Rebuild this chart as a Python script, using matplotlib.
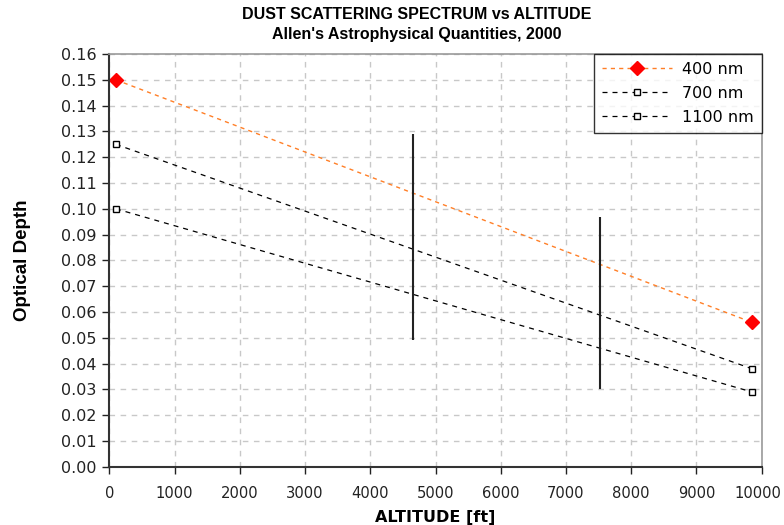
import matplotlib.pyplot as plt
import matplotlib.transforms as mtransforms

# data
altitude = [100, 9850]
od_400 = [0.150, 0.056]
od_700 = [0.125, 0.038]
od_1100 = [0.100, 0.029]

# vertical range bars
bar_x = [4650, 7520]
bar_lo = [0.049, 0.030]
bar_hi = [0.129, 0.097]

xticks = list(range(0, 10001, 1000))
yticks = [i / 100 for i in range(0, 17)]

plt.rcParams['font.family'] = ['DejaVu Sans']

fig = plt.figure(figsize=(7.84, 5.25), dpi=100)
ax = fig.add_axes([0.1395, 0.111, 0.832, 0.786])

ax.plot(altitude, od_400, linestyle=(0, (3, 3)), color='#ff7f27', lw=1,
        marker='D', markersize=7, markerfacecolor='red', markeredgecolor='red',
        label='400 nm')
ax.plot(altitude, od_700, linestyle=(0, (4, 4)), color='black', lw=0.9,
        marker='s', markersize=4, markerfacecolor='white', markeredgecolor='black',
        label='700 nm')
ax.plot(altitude, od_1100, linestyle=(0, (4, 4)), color='black', lw=0.9,
        marker='s', markersize=4, markerfacecolor='white', markeredgecolor='black',
        label='1100 nm')

ax.vlines(bar_x, bar_lo, bar_hi, color='#222222', lw=1.5)

ax.set_xlim(0, 10000)
ax.set_ylim(0, 0.16)
ax.set_xticks(xticks)
ax.set_yticks(yticks)
ax.set_yticklabels([f"{v:.2f}" for v in yticks])
ax.tick_params(direction='out', length=5, width=1, colors='#222222')
ax.tick_params(axis='x', pad=9, labelsize=10.6)
ax.tick_params(axis='y', pad=4, labelsize=11.5)

# keep the last x label inside the figure
last = ax.get_xticklabels()[-1]
last.set_transform(last.get_transform() +
                   mtransforms.ScaledTranslation(-3 / 72, 0, fig.dpi_scale_trans))

ax.grid(True, linestyle=(0, (4, 4)), color='#c8c8c8', lw=1)
ax.set_axisbelow(True)

for s in ['left', 'bottom']:
    ax.spines[s].set_color('#333333')
    ax.spines[s].set_linewidth(1.5)
for s in ['top', 'right']:
    ax.spines[s].set_color('#999999')
    ax.spines[s].set_linewidth(1.2)

ax.set_xlabel('ALTITUDE [ft]', fontsize=11.5, fontweight='bold', labelpad=6)
ax.set_ylabel('Optical Depth', fontsize=13.5, fontweight='bold',
              family=['Liberation Sans'], labelpad=22)
fig.text(0.532, 0.972, "DUST SCATTERING SPECTRUM vs ALTITUDE",
         ha='center', va='center', fontsize=11.5, fontweight='bold',
         family=['Liberation Sans'])
fig.text(0.532, 0.934, "Allen's Astrophysical Quantities, 2000",
         ha='center', va='center', fontsize=11.5, fontweight='bold',
         family=['Liberation Sans'])

leg = ax.legend(loc='upper right', fontsize=11.5, frameon=True, fancybox=False,
                borderaxespad=0, handlelength=4.4, handletextpad=0.6,
                borderpad=0.5, labelspacing=0.55)
leg.get_frame().set_edgecolor('black')
leg.get_frame().set_linewidth(1)

fig.savefig('out.png', dpi=100)
